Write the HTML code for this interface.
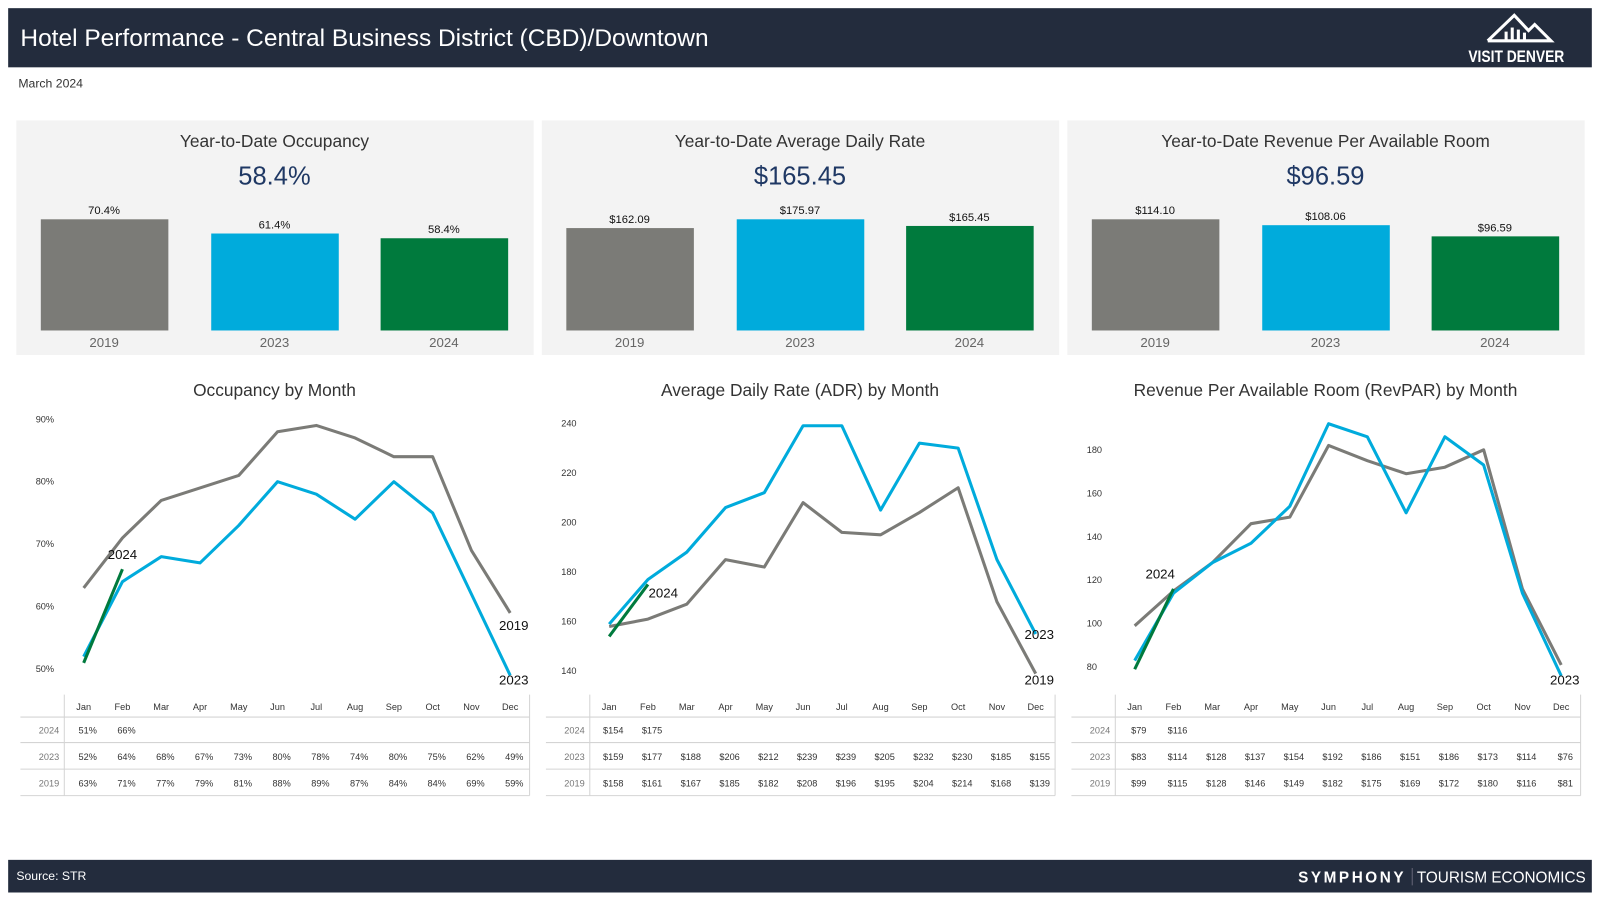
<!DOCTYPE html>
<html><head><meta charset="utf-8">
<style>
html,body{margin:0;padding:0;background:#fff;width:1600px;height:900px;overflow:hidden}
#stage{position:absolute;left:0;top:0;width:1568px;height:877px;transform:scale(1.0204,1.02);transform-origin:0 0;font-family:"Liberation Sans",sans-serif}
svg text{font-family:"Liberation Sans",sans-serif}
</style></head>
<body>
<div id="stage">
<svg id="svg" width="1568" height="877" viewBox="0 0 1568 877" xmlns="http://www.w3.org/2000/svg">
  <rect x="8" y="8" width="1552" height="58" fill="#232c3d"/>
  <text x="20" y="45" font-size="24" fill="#fff">Hotel Performance - Central Business District (CBD)/Downtown</text>
  <g fill="none" stroke="#fff" stroke-width="3">
    <polyline points="1458,40 1484,15 1498,30 1504,24 1520,40 1458,40"/>
    <line x1="1476" y1="40" x2="1476" y2="31"/>
    <line x1="1482" y1="40" x2="1482" y2="27"/>
    <line x1="1488" y1="40" x2="1488" y2="29"/>
    <line x1="1494" y1="40" x2="1494" y2="32"/>
    <text x="1486" y="61" font-size="16" font-weight="bold" fill="#fff" stroke="none" text-anchor="middle" textLength="94" lengthAdjust="spacingAndGlyphs">VISIT DENVER</text>
  </g>
  <text x="18" y="86" font-size="12" fill="#333">March 2024</text>
  <rect x="8" y="843" width="1552" height="32" fill="#232c3d"/>
  <text x="16" y="863" font-size="12" fill="#fff">Source: STR</text>
  <text x="1378" y="865" font-size="15" font-weight="bold" fill="#fff" text-anchor="end" letter-spacing="2.5">SYMPHONY</text>
  <line x1="1384" y1="851" x2="1384" y2="868" stroke="#667" stroke-width="1"/>
  <text x="1554" y="865" font-size="15" fill="#fff" text-anchor="end">TOURISM ECONOMICS</text>
</svg>
</div>
<script>
// ---- KPI data ----
const kpiYears = ["2019","2023","2024"];
const occYTD = [70.4, 61.4, 58.4];
const adrYTD = [162.09, 175.97, 165.45];
const revparYTD = [114.10, 108.06, 96.59];
// ---- Monthly data ----
const months = ["Jan","Feb","Mar","Apr","May","Jun","Jul","Aug","Sep","Oct","Nov","Dec"];
const occ2024 = [51, 66];
const occ2023 = [52,64,68,67,73,80,78,74,80,75,62,49];
const occ2019 = [63,71,77,79,81,88,89,87,84,84,69,59];
const occTicks = [50,60,70,80,90];
const adr2024 = [154, 175];
const adr2023 = [159,177,188,206,212,239,239,205,232,230,185,155];
const adr2019 = [158,161,167,185,182,208,196,195,204,214,168,139];
const adrTicks = [140,160,180,200,220,240];
const rev2024 = [79, 116];
const rev2023 = [83,114,128,137,154,192,186,151,186,173,114,76];
const rev2019 = [99,115,128,146,149,182,175,169,172,180,116,81];
const revTicks = [80,100,120,140,160,180];

const NS="http://www.w3.org/2000/svg";
const svg=document.getElementById('svg');
function mk(tag,attrs,parent){const e=document.createElementNS(NS,tag);for(const k in attrs)e.setAttribute(k,attrs[k]);(parent||svg).appendChild(e);return e;}
const colors={"2019":"#7b7b77","2023":"#00abdc","2024":"#007a3d"};

function kpi(px,title,values,fmt,slug){
  const g=mk('g',{});
  
  
  mk('rect',{x:px,y:118,width:507,height:230,fill:'#f3f3f3'},g);
  const t=mk('text',{x:px+253,y:144,'font-size':17,fill:'#333','text-anchor':'middle'},g);t.textContent=title;
  
  
  const v=mk('text',{x:px+253,y:181,'font-size':25,fill:'#1f3864','text-anchor':'middle'},g);v.textContent=fmt(values[2]);
  
  
  const mx=Math.max(...values);
  const offs=[24,191,357];
  values.forEach((val,i)=>{
    const h=109*val/mx, x=px+offs[i];
    const b=mk('rect',{x:x,y:324-h,width:125,height:h,fill:colors[kpiYears[i]]},g);
    
    
    const l=mk('text',{x:x+62,y:324-h-5,'font-size':11,fill:'#111','text-anchor':'middle'},g);l.textContent=fmt(val);
    
    
    const y=mk('text',{x:x+62,y:340,'font-size':13,fill:'#666','text-anchor':'middle'},g);y.textContent=kpiYears[i];
    
    
  });
}
kpi(16,'Year-to-Date Occupancy',occYTD,v=>v.toFixed(1)+'%','occupancy');
kpi(531,'Year-to-Date Average Daily Rate',adrYTD,v=>'$'+v.toFixed(2),'adr');
kpi(1046,'Year-to-Date Revenue Per Available Room',revparYTD,v=>'$'+v.toFixed(2),'revpar');

function lineChart(o){
  const g=mk('g',{});
  
  
  const xs=i=>o.x0+i*38;
  const ys=v=>o.yBot-(v-o.vBot)*(o.yBot-o.yTop)/(o.vTop-o.vBot);
  const t=mk('text',{x:o.x0+187,y:388,'font-size':17,fill:'#333','text-anchor':'middle'},g);t.textContent=o.title;
  
  
  o.ticks.forEach(v=>{
    const tt=mk('text',{x:o.x0-47,y:ys(v)+3,'font-size':9,fill:'#333'},g);tt.textContent=o.tick(v);
    
    
  });
  const series=[["2019",o.s2019],["2023",o.s2023],["2024",o.s2024]];
  series.forEach(([yr,arr])=>{
    const p=mk('polyline',{points:arr.map((v,i)=>xs(i)+','+ys(v)).join(' '),fill:'none',stroke:colors[yr],'stroke-width':3,'stroke-linejoin':'round'},g);
    
    
  });
  const l24=o.s2024.length-1;
  const a=mk('text',{x:xs(l24)+o.off24[0],y:ys(o.s2024[l24])+o.off24[1],'font-size':13,fill:'#111','text-anchor':'middle'},g);a.textContent='2024';
  
  
  o.endLabels.forEach(([yr,dy])=>{
    const arr=yr==='2019'?o.s2019:o.s2023;
    const e=mk('text',{x:xs(11)-11,y:Math.min(ys(arr[11])+dy,671),'font-size':13,fill:'#111'},g);e.textContent=yr;
    
    
  });
  const L=o.x0-62,R=o.x0+437;
  const tg=mk('g',{stroke:'#d4d4d4','stroke-width':1},g);
  
  
  mk('line',{x1:L+43,y1:681,x2:L+43,y2:780},tg);
  mk('line',{x1:R,y1:681,x2:R,y2:780},tg);
  [703,728,754,780].forEach(y=>mk('line',{x1:L,y1:y,x2:R,y2:y},tg));
  months.forEach((m,i)=>{
    const h=mk('text',{x:xs(i),y:696,'font-size':9,fill:'#333','text-anchor':'middle'},g);h.textContent=m;
    
    
  });
  [["2024",o.s2024,719],["2023",o.s2023,745],["2019",o.s2019,771]].forEach(([yr,arr,y])=>{
    const r=mk('text',{x:L+38,y:y,'font-size':9,fill:'#777','text-anchor':'end'},g);r.textContent=yr;
    
    
    arr.forEach((v,i)=>{
      const c=mk('text',{x:xs(i)+4,y:y,'font-size':9,fill:'#333','text-anchor':'middle'},g);c.textContent=o.cell(v);
      
      
    });
  });
}
lineChart({slug:'occupancy',title:'Occupancy by Month',x0:82,yTop:411,yBot:656,vTop:90,vBot:50,ticks:occTicks,tick:v=>v+'%',
  s2024:occ2024,s2023:occ2023,s2019:occ2019,off24:[0,-10],endLabels:[["2019",17],["2023",14]],cell:v=>v+'%'});
lineChart({slug:'adr',title:'Average Daily Rate (ADR) by Month',x0:597,yTop:415,yBot:658,vTop:240,vBot:140,ticks:adrTicks,tick:v=>String(v),
  s2024:adr2024,s2023:adr2023,s2019:adr2019,off24:[15,13],endLabels:[["2023",5],["2019",11]],cell:v=>'$'+v});
lineChart({slug:'revpar',title:'Revenue Per Available Room (RevPAR) by Month',x0:1112,yTop:441,yBot:654,vTop:180,vBot:80,ticks:revTicks,tick:v=>String(v),
  s2024:rev2024,s2023:rev2023,s2019:rev2019,off24:[-13,-10],endLabels:[["2023",9]],cell:v=>'$'+v});
</script>
</body></html>
